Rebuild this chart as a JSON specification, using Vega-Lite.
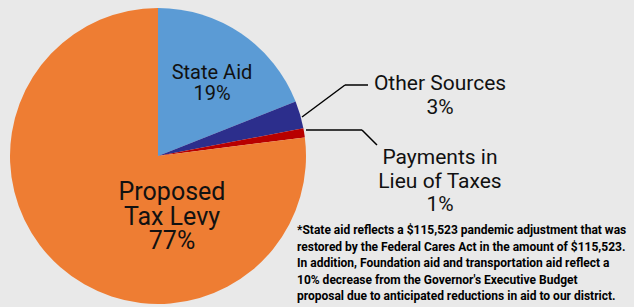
{
  "$schema": "https://vega.github.io/schema/vega-lite/v6.json",
  "width": 634,
  "height": 307,
  "padding": 0,
  "autosize": {"type": "fit", "contains": "padding"},
  "background": "#e9e9e9",
  "config": {"view": {"stroke": null}},
  "datasets": {
    "revenue": [
      {"source": "State Aid", "share": 19, "order": 1, "label": "State Aid\n19%"},
      {"source": "Other Sources", "share": 3, "order": 2, "label": "Other Sources\n3%"},
      {"source": "Payments in Lieu of Taxes", "share": 1, "order": 3, "label": "Payments in\nLieu of Taxes\n1%"},
      {"source": "Proposed Tax Levy", "share": 77, "order": 4, "label": "Proposed\nTax Levy\n77%"}
    ],
    "note": [
      {"text": "*State aid reflects a $115,523 pandemic adjustment that was\nrestored by the Federal Cares Act in the amount of $115,523.\nIn addition, Foundation aid and transportation aid reflect a\n10% decrease from the Governor's Executive Budget\nproposal due to anticipated reductions in aid to our district."}
    ]
  },
  "layer": [
    {
      "data": {"name": "revenue"},
      "mark": {"type": "arc", "x": 158, "y": 156, "outerRadius": 148},
      "encoding": {
        "theta": {"field": "share", "type": "quantitative", "stack": true},
        "order": {"field": "order", "type": "quantitative"},
        "color": {
          "field": "source",
          "type": "nominal",
          "legend": null,
          "scale": {
            "domain": ["State Aid", "Other Sources", "Payments in Lieu of Taxes", "Proposed Tax Levy"],
            "range": ["#5b9bd5", "#2c2e8c", "#b80000", "#ee7d33"]
          }
        }
      }
    },
    {
      "data": {"name": "revenue"},
      "transform": [{"filter": "datum.source === 'State Aid'"}],
      "mark": {"type": "text", "x": 212, "y": 73, "align": "center", "baseline": "middle", "font": "Roboto", "fontSize": 20, "lineHeight": 21, "lineBreak": "\n", "color": "#111"},
      "encoding": {"text": {"field": "label"}}
    },
    {
      "data": {"name": "revenue"},
      "transform": [{"filter": "datum.source === 'Proposed Tax Levy'"}],
      "mark": {"type": "text", "x": 172, "y": 192, "align": "center", "baseline": "middle", "font": "Roboto", "fontSize": 25, "lineHeight": 24.5, "lineBreak": "\n", "color": "#111"},
      "encoding": {"text": {"field": "label"}}
    },
    {
      "data": {"name": "revenue"},
      "transform": [{"filter": "datum.source === 'Other Sources'"}],
      "mark": {"type": "text", "x": 440, "y": 84, "align": "center", "baseline": "middle", "font": "Roboto", "fontSize": 21, "lineHeight": 24, "lineBreak": "\n", "color": "#111"},
      "encoding": {"text": {"field": "label"}}
    },
    {
      "data": {"name": "revenue"},
      "transform": [{"filter": "datum.source === 'Payments in Lieu of Taxes'"}],
      "mark": {"type": "text", "x": 440, "y": 158, "align": "center", "baseline": "middle", "font": "Roboto", "fontSize": 21, "lineHeight": 23.5, "lineBreak": "\n", "color": "#111"},
      "encoding": {"text": {"field": "label"}}
    },
    {
      "data": {"name": "note"},
      "mark": {"type": "text", "x": 297, "y": 230, "align": "left", "baseline": "middle", "font": "Roboto", "fontWeight": "bold", "fontSize": 12, "lineHeight": 16.5, "lineBreak": "\n", "color": "#000"},
      "encoding": {"text": {"field": "text"}}
    },
    {
      "data": {"values": [{}]},
      "mark": {"type": "rule", "color": "#000", "strokeWidth": 1.5},
      "encoding": {"x": {"value": 302}, "y": {"value": 117}, "x2": {"value": 345}, "y2": {"value": 85}}
    },
    {
      "data": {"values": [{}]},
      "mark": {"type": "rule", "color": "#000", "strokeWidth": 1.5},
      "encoding": {"x": {"value": 345}, "y": {"value": 85}, "x2": {"value": 368}, "y2": {"value": 85}}
    },
    {
      "data": {"values": [{}]},
      "mark": {"type": "rule", "color": "#000", "strokeWidth": 1.5},
      "encoding": {"x": {"value": 306}, "y": {"value": 130}, "x2": {"value": 362}, "y2": {"value": 130}}
    },
    {
      "data": {"values": [{}]},
      "mark": {"type": "rule", "color": "#000", "strokeWidth": 1.5},
      "encoding": {"x": {"value": 362}, "y": {"value": 130}, "x2": {"value": 377}, "y2": {"value": 145}}
    }
  ]
}
